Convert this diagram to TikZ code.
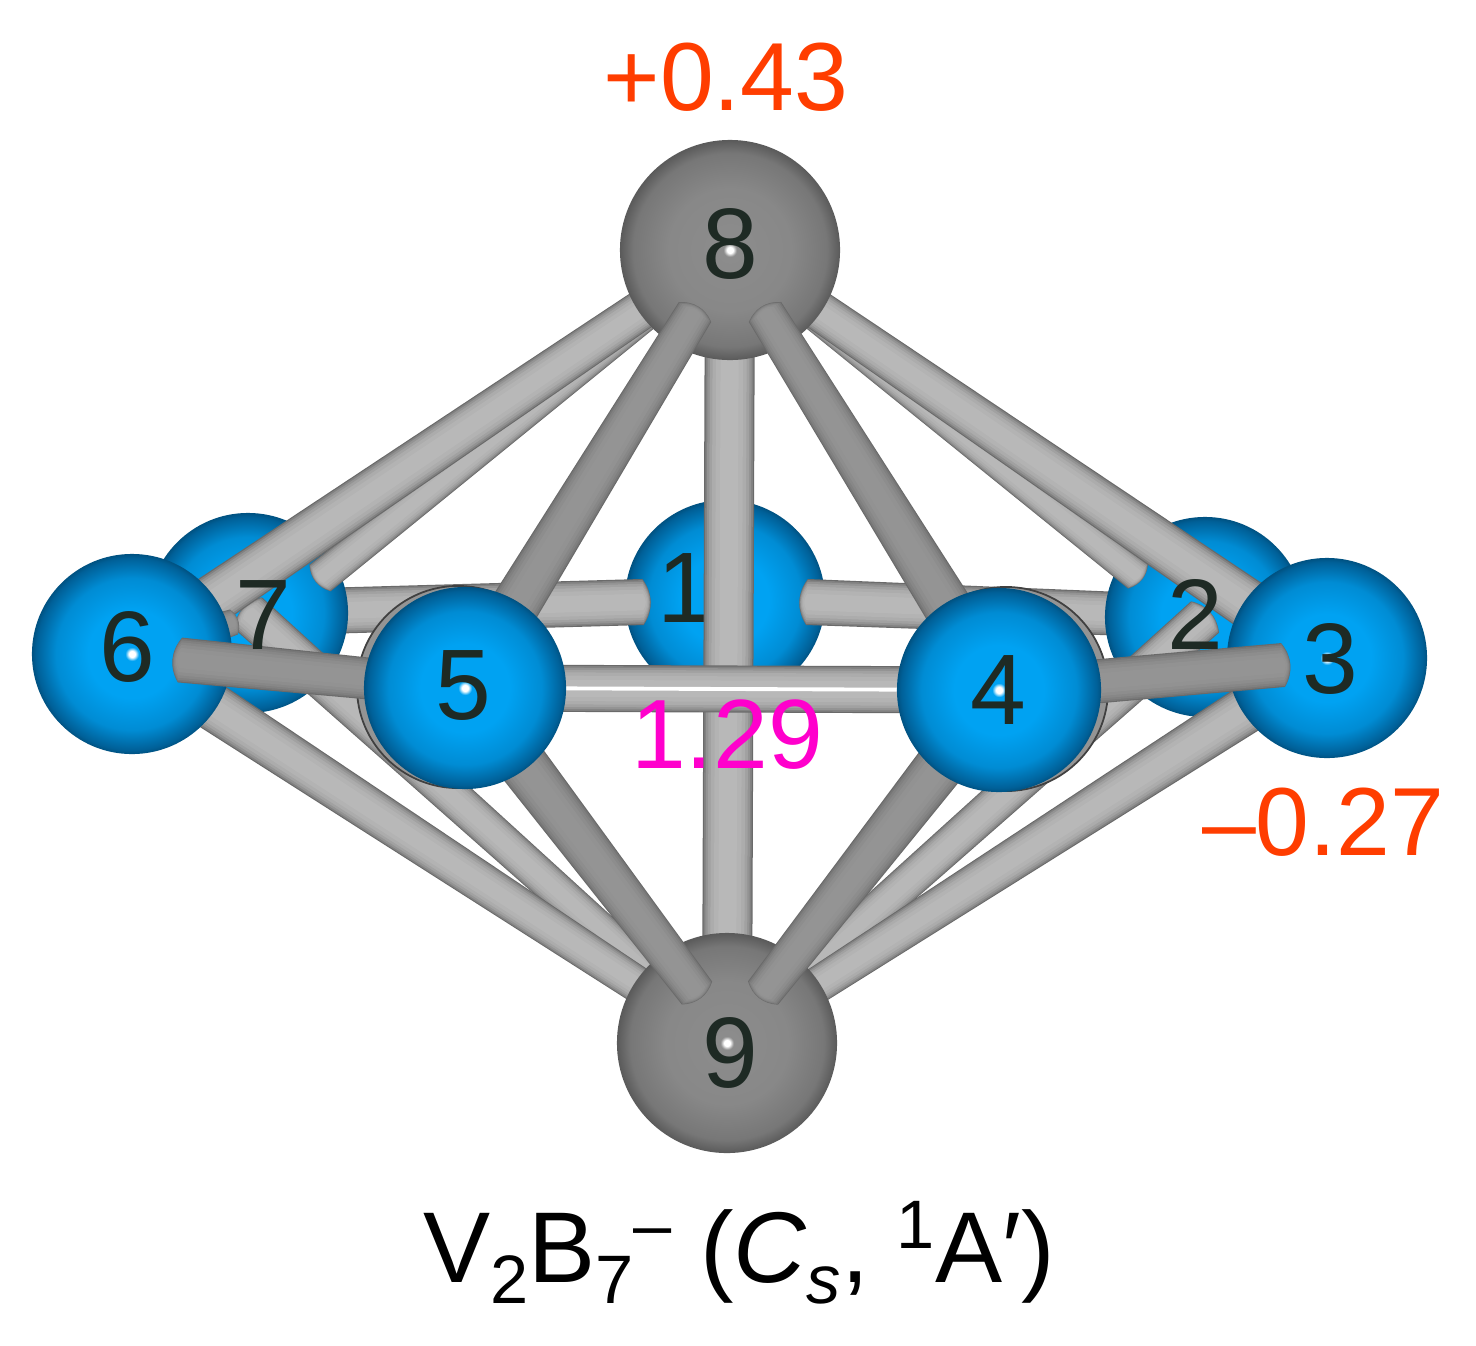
\documentclass[tikz,border=0pt]{standalone}
\usepackage{fontspec}
\setmainfont{Liberation Sans}
\usetikzlibrary{calc}

\definecolor{bluehi}{HTML}{00A2F2}
\definecolor{bluemid}{HTML}{008CD4}
\definecolor{blueedge}{HTML}{006098}
\definecolor{grayhi}{HTML}{8C8C8C}
\definecolor{grayedge}{HTML}{5A5A5A}
\definecolor{bondlight}{HTML}{B8B8B8}
\definecolor{bonddark}{HTML}{949494}
\definecolor{bondedge}{HTML}{6A6A6A}
\definecolor{chargered}{HTML}{FF3D00}
\definecolor{lenpink}{HTML}{FF00CC}
\definecolor{numdark}{HTML}{1E2A24}

\pgfdeclareradialshading{bluesph}{\pgfpoint{0bp}{0bp}}{color(0bp)=(white); color(0.8bp)=(white); color(1.7bp)=(bluehi); color(11bp)=(bluehi); color(19bp)=(bluemid); color(24bp)=(blueedge); color(25bp)=(blueedge!85!black); color(50bp)=(blueedge)}
\pgfdeclareradialshading{graysph}{\pgfpoint{0bp}{0bp}}{color(0bp)=(white); color(0.7bp)=(white); color(1.5bp)=(grayhi); color(14bp)=(grayhi!97!black); color(22bp)=(grayhi!85!black); color(25bp)=(grayedge); color(50bp)=(grayedge)}

\tikzset{
  bluesphere/.style={circle,minimum size=2cm,inner sep=0pt,shading=bluesph},
  graysphere/.style={circle,minimum size=2.2cm,inner sep=0pt,shading=graysph},
  halo/.style={circle,inner sep=0pt,fill=bonddark,draw=bondedge!60!black,line width=.5pt},
  atomnum/.style={inner sep=0pt,text=numdark,font=\fontsize{28.5}{30}\selectfont},
  charge/.style={inner sep=0pt,text=chargered,font=\fontsize{27.5}{30}\selectfont},
}

\newcommand\bond[5]{%
  \foreach \f/\m in {1/0,0.95/30,0.88/52,0.79/70,0.68/84,0.54/94,0.36/100}
    \fill[#5!\m!bondedge] ($(#1)!\f*#3*0.005cm!90:(#2)$) to[bend right=35] ($(#1)!\f*#3*0.005cm!-90:(#2)$)
      -- ($(#2)!\f*#4*0.005cm!90:(#1)$) to[bend right=35] ($(#2)!\f*#4*0.005cm!-90:(#1)$) -- cycle;
}
\newcommand\sbs[1]{\raisebox{-.21em}{\fontsize{19.5}{20}\selectfont #1}}
\newcommand\sps[1]{\raisebox{.33em}{\fontsize{19.5}{20}\selectfont #1}}

\begin{document}
\begin{tikzpicture}[x=0.01cm,y=-0.01cm]
\useasboundingbox (0,0) rectangle (1476,1345);

\coordinate (a1) at (725,600);
\coordinate (a2) at (1205,617);
\coordinate (a3) at (1327,658);
\coordinate (a4) at (999,690);
\coordinate (a5) at (465,688);
\coordinate (a6) at (132,654);
\coordinate (a7) at (248,613);
\coordinate (a8) at (730,250);
\coordinate (a9) at (727,1043);

\coordinate (e17) at (643,602);
\coordinate (e12) at (807,602);
\coordinate (e87) at (320,578);
\coordinate (e82) at (1138,576);
\coordinate (e85) at (695,312);
\coordinate (e84) at (765,312);
\coordinate (e95) at (697,993);
\coordinate (e94) at (763,993);
\coordinate (e65) at (180,660);
\coordinate (e43) at (1283,665);
\coordinate (e67) at (234,622);

\node[bluesphere] (n1) at (a1) {};
\node[atomnum] (l1) at (685,588) {1};
\bond{e17}{a7}{46}{46}{bondlight}
\bond{e12}{a2}{46}{43}{bondlight}
\node[bluesphere] (n7) at (a7) {};
\node[bluesphere] (n2) at (a2) {};

\bond{a9}{a7}{32}{42}{bondlight}
\bond{a9}{a2}{32}{42}{bondlight}
\bond{a8}{e87}{26}{34}{bondlight}
\bond{a8}{e82}{26}{32}{bondlight}
\bond{a8}{a9}{50}{50}{bondlight}
\bond{a8}{a6}{38}{52}{bondlight}
\bond{a8}{a3}{38}{52}{bondlight}
\bond{a9}{a6}{34}{50}{bondlight}
\bond{a9}{a3}{34}{50}{bondlight}
\bond{a6}{e67}{40}{26}{bonddark}

\node[graysphere] (n8) at (a8) {};
\node[graysphere] (n9) at (a9) {};

\node[halo,minimum size=2.02cm] (h5) at (458,687) {};
\node[halo,minimum size=2.04cm] (h4) at (1006,689) {};

\bond{e85}{a5}{38}{52}{bonddark}
\bond{e84}{a4}{38}{52}{bonddark}
\bond{e95}{a5}{38}{54}{bonddark}
\bond{e94}{a4}{38}{54}{bonddark}
\bond{a5}{a4}{47}{47}{bondlight}
\draw[white,line width=1.1pt] (a5) -- (a4);

\node[bluesphere] (n6) at (a6) {};
\node[bluesphere] (n3) at (a3) {};
\bond{e65}{a5}{45}{40}{bonddark}
\bond{a4}{e43}{44}{44}{bonddark}
\node[bluesphere,minimum size=2.02cm] (n5) at (a5) {};
\node[bluesphere,minimum size=2.04cm] (n4) at (a4) {};

\node[atomnum] (l2) at (1195,614) {2};
\node[atomnum] (l3) at (1330,659) {3};
\node[atomnum] (l4) at (998,690) {4};
\node[atomnum] (l5) at (463,685) {5};
\node[atomnum] (l6) at (127,647) {6};
\node[atomnum] (l7) at (263,615) {7};
\node[atomnum] (l8) at (730,244) {8};
\node[atomnum] (l9) at (730,1053) {9};

\node[charge] (q8) at (726,77) {+0.43};
\node[charge] (q3) at (1323,822) {--0.27};
\node[inner sep=0pt,text=lenpink,font=\fontsize{28}{30}\selectfont] (len) at (727,735) {1.29};

\node[inner sep=0pt,anchor=base,font=\fontsize{28.6}{30}\selectfont] (title) at (739,1282)
  {V\sbs{2}B\sbs{7}\sps{--} (\textit{C}\sbs{\textit{s}}, \sps{1}A′)};
\end{tikzpicture}
\end{document}
